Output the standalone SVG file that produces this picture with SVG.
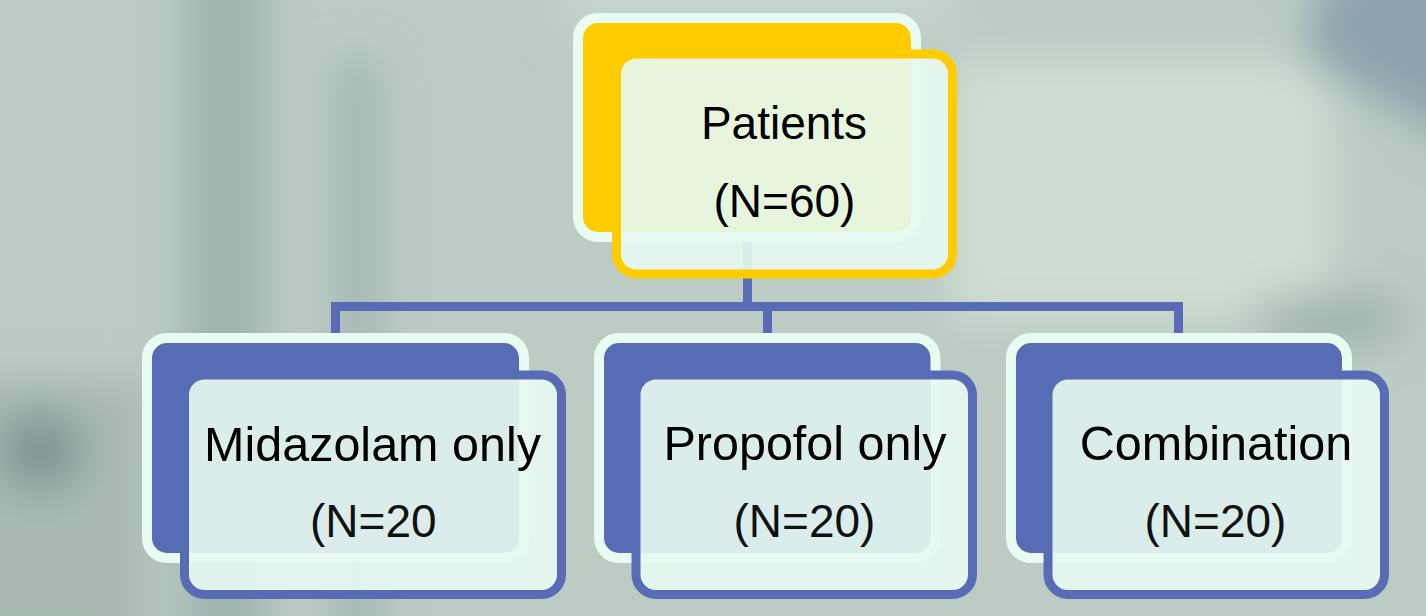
<svg xmlns="http://www.w3.org/2000/svg" width="1426" height="616" viewBox="0 0 1426 616">
<defs>
<filter id="blur" filterUnits="userSpaceOnUse" x="-100" y="-100" width="1626" height="816"><feGaussianBlur stdDeviation="22"/></filter>
<style>
.back{stroke:#e8fcf1;stroke-width:10}
.by{fill:#ffcc00}
.bb{fill:#586cb6}
.front{stroke-width:9;fill:#e6f8f0;fill-opacity:0.92}
.fy{stroke:#ffcc00}
.fb{stroke:#586cb6}
.conn{fill:none;stroke:#586cb6;stroke-width:9;stroke-linejoin:miter}
.t{font-family:"Liberation Sans",Arial,sans-serif;font-size:46px;fill:#000;text-anchor:middle}
.c1{font-size:48.5px}
.t2{font-family:"Liberation Sans",Arial,sans-serif;font-size:46px;fill:#111;text-anchor:middle}
</style>
</defs>
<g id="background">
<rect width="1426" height="616" fill="#bccbc4"/>
<g filter="url(#blur)">
<rect x="185" y="-50" width="80" height="716" fill="#9fb3ae"/>
<rect x="335" y="60" width="45" height="606" fill="#a3b6b1"/>
<rect x="-50" y="380" width="200" height="286" fill="#a9b9b1"/>
<ellipse cx="40" cy="450" rx="45" ry="40" fill="#7f9596"/>
<rect x="950" y="60" width="380" height="260" fill="#cfddd3"/>
<path d="M1330 -40 L1480 -40 L1480 160 L1400 110 L1300 60 Z" fill="#8ea3ac"/>
<ellipse cx="1330" cy="320" rx="80" ry="25" fill="#9fb1aa"/>
<rect x="560" y="-40" width="400" height="70" fill="#c6d4cd"/>
</g>
</g>
<g id="connectors">
<path class="conn" d="M335.5 338 V306.5 H1178.5 V338 M747.5 240 V306.5 M767.5 306.5 V338"/>
</g>
<g id="node-patients">
<rect class="back by" x="578" y="18" width="338" height="219" rx="20"/>
<rect class="front fy" x="616.5" y="54" width="336" height="220" rx="20"/>
<text class="t" x="784" y="139">Patients</text>
<text class="t" x="784.5" y="217">(N=60)</text>
</g>
<g id="node-midazolam">
<rect class="back bb" x="147" y="338" width="377" height="220" rx="20"/>
<rect class="front fb" x="184.5" y="375" width="377" height="219.5" rx="20"/>
<text class="t c1" x="372.5" y="461">Midazolam only</text>
<text class="t2" x="310" y="537" style="text-anchor:start">(N=20</text>
</g>
<g id="node-propofol">
<rect class="back bb" x="599" y="338" width="336.5" height="220" rx="20"/>
<rect class="front fb" x="636" y="375" width="336.5" height="219.5" rx="20"/>
<text class="t c1" x="805" y="460">Propofol only</text>
<text class="t2" x="804.5" y="537">(N=20)</text>
</g>
<g id="node-combination">
<rect class="back bb" x="1011" y="338" width="336" height="220" rx="20"/>
<rect class="front fb" x="1048" y="375" width="336.5" height="219.5" rx="20"/>
<text class="t c1" x="1216" y="460">Combination</text>
<text class="t2" x="1215.5" y="537">(N=20)</text>
</g>
</svg>
